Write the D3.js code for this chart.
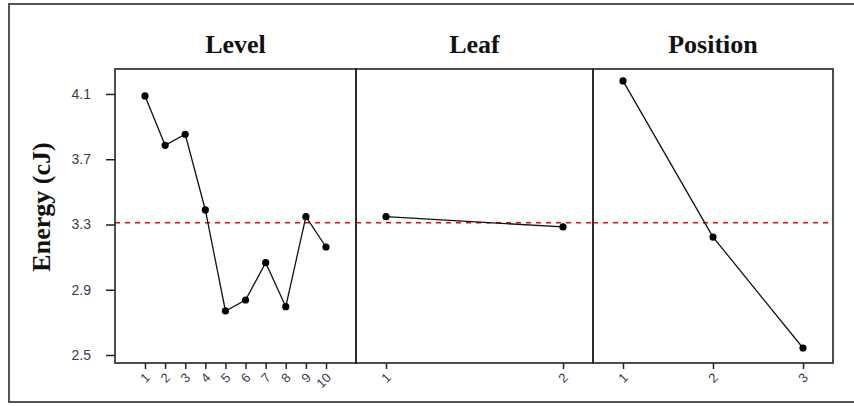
<!DOCTYPE html>
<html>
<head>
<meta charset="utf-8">
<script src="https://cdn.jsdelivr.net/npm/d3@7"></script>
<style>
  html, body { margin: 0; padding: 0; background: #fff; }
  svg { display: block; }
</style>
</head>
<body>
<svg id="chart" width="854" height="406"></svg>
<script>
// ---- data ----
const panelTitles = ["Level", "Leaf", "Position"];
const levelCats = ["1", "2", "3", "4", "5", "6", "7", "8", "9", "10"];
const levelVals = [4.088, 3.785, 3.853, 3.389, 2.770, 2.837, 3.066, 2.796, 3.348, 3.162];
const leafCats = ["1", "2"];
const leafVals = [3.348, 3.285];
const positionCats = ["1", "2", "3"];
const positionVals = [4.180, 3.223, 2.543];
const yTicks = [2.5, 2.9, 3.3, 3.7, 4.1];
const meanValue = 3.31;
const yLabel = "Energy (cJ)";

// ---- layout ----
const svg = d3.select("#chart");
const W = 854, H = 406;
const plotTop = 69, plotBottom = 363;
const panelX = [[115, 356], [356, 593], [593, 833]];
const pad = 30;

svg.append("rect").attr("x", 0).attr("y", 0).attr("width", W).attr("height", H).attr("fill", "#fff");
// outer frame
svg.append("rect")
  .attr("x", 9).attr("y", 4).attr("width", 852).attr("height", 398)
  .attr("fill", "none").attr("stroke", "#555").attr("stroke-width", 2);

const y = d3.scaleLinear().domain([2.451, 4.253]).range([plotBottom, plotTop]);

const series = [
  { cats: levelCats, vals: levelVals },
  { cats: leafCats, vals: leafVals },
  { cats: positionCats, vals: positionVals }
];

series.forEach((s, i) => {
  const [x0, x1] = panelX[i];
  const x = d3.scalePoint().domain(s.cats).range([x0 + pad, x1 - pad]);
  const g = svg.append("g");

  // title
  g.append("text")
    .attr("x", (x0 + x1) / 2).attr("y", 53)
    .attr("text-anchor", "middle")
    .attr("font-family", "'Liberation Serif', 'Times New Roman', serif")
    .attr("font-weight", "bold").attr("font-size", 26)
    .attr("fill", "#111")
    .text(panelTitles[i]);

  // mean line
  g.append("line")
    .attr("x1", x0).attr("x2", x1)
    .attr("y1", y(meanValue)).attr("y2", y(meanValue))
    .attr("stroke", "#ff0000").attr("stroke-width", 1.5)
    .attr("stroke-dasharray", "5,5");

  // line
  const line = d3.line().x((d, j) => x(s.cats[j])).y(d => y(d));
  g.append("path").datum(s.vals)
    .attr("d", line).attr("fill", "none")
    .attr("stroke", "#111").attr("stroke-width", 1.3);

  g.selectAll("circle.pt").data(s.vals).enter().append("circle")
    .attr("class", "pt")
    .attr("cx", (d, j) => x(s.cats[j])).attr("cy", d => y(d))
    .attr("r", 3.6).attr("fill", "#000");

  // panel border
  g.append("rect")
    .attr("x", x0).attr("y", plotTop).attr("width", x1 - x0).attr("height", plotBottom - plotTop)
    .attr("fill", "none").attr("stroke", "#222").attr("stroke-width", 1.6);

  // x axis
  const xa = g.append("g").attr("transform", `translate(0,${plotBottom})`)
    .call(d3.axisBottom(x).tickSize(6).tickSizeOuter(0).tickFormat(""));
  xa.select(".domain").remove();
  xa.selectAll("line").attr("stroke", "#222").attr("stroke-width", 1.5);
  xa.selectAll(".tick").append("text")
    .attr("transform", "translate(3,13) rotate(-45)")
    .attr("text-anchor", "end")
    .attr("dominant-baseline", "middle")
    .attr("font-family", "'Liberation Sans', Arial, sans-serif")
    .attr("font-size", 13)
    .attr("fill", "#3a3a55")
    .text(d => d);

  if (i === 0) {
    const ya = g.append("g").attr("transform", `translate(${x0},0)`)
      .call(d3.axisLeft(y).tickValues(yTicks).tickSize(9).tickPadding(15).tickSizeOuter(0)
        .tickFormat(d3.format(".1f")));
    ya.select(".domain").remove();
    ya.selectAll("line").attr("stroke", "#222").attr("stroke-width", 1.5);
    ya.selectAll("text")
      .attr("font-family", "'Liberation Sans', Arial, sans-serif")
      .attr("font-size", 14).attr("fill", "#3a3a55");
  }
});

// y label
svg.append("text")
  .attr("transform", `translate(50,${207}) rotate(-90)`)
  .attr("text-anchor", "middle")
  .attr("font-family", "'Liberation Serif', 'Times New Roman', serif")
  .attr("font-weight", "bold").attr("font-size", 26)
  .attr("fill", "#111")
  .text(yLabel);
</script>
</body>
</html>
